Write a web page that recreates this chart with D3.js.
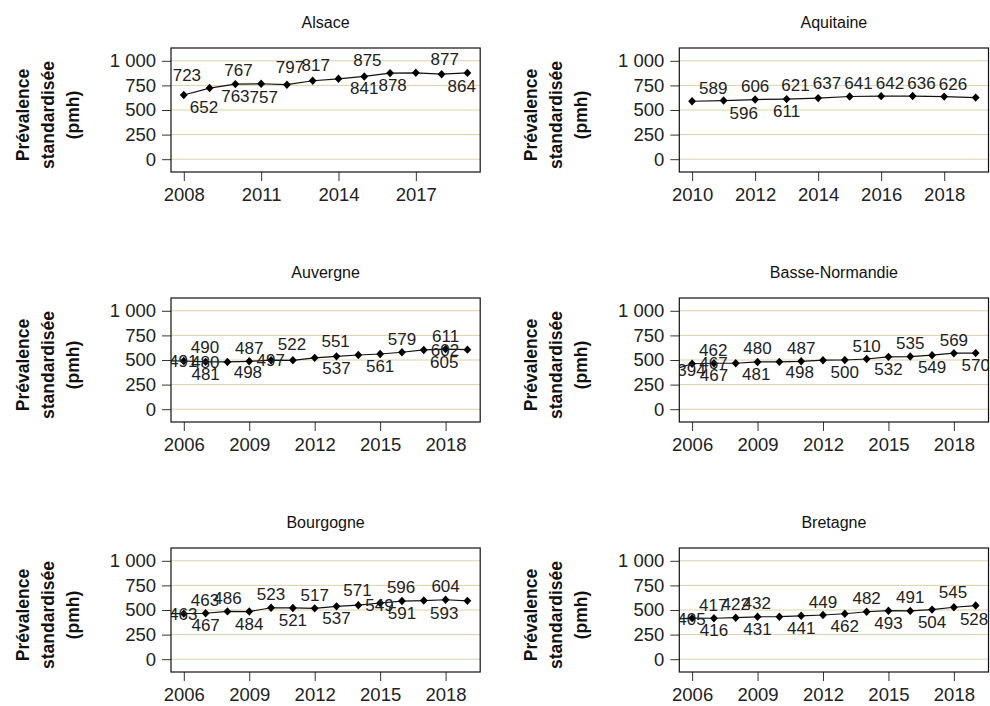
<!DOCTYPE html>
<html><head><meta charset="utf-8">
<script src="https://cdn.jsdelivr.net/npm/d3@7"></script>
<style>body{margin:0;background:#fff} svg{display:block}</style>
</head><body>
<svg id="c" width="990" height="706"></svg>
<script>
// ---------- data ----------
const regions = ["Alsace", "Aquitaine", "Auvergne", "Basse-Normandie", "Bourgogne", "Bretagne"];

const alsaceYears = [2008, 2009, 2010, 2011, 2012, 2013, 2014, 2015, 2016, 2017, 2018, 2019];
const alsaceValues = [652, 723, 763, 767, 757, 797, 817, 841, 875, 878, 864, 877];

const aquitaineYears = [2010, 2011, 2012, 2013, 2014, 2015, 2016, 2017, 2018, 2019];
const aquitaineValues = [589, 596, 606, 611, 621, 637, 641, 642, 636, 626];

const auvergneYears = [2005, 2006, 2007, 2008, 2009, 2010, 2011, 2012, 2013, 2014, 2015, 2016, 2017, 2018, 2019];
const auvergneValues = [491, 490, 481, 480, 487, 498, 497, 522, 537, 551, 561, 579, 602, 611, 605];

const basseNormandieYears = [2005, 2006, 2007, 2008, 2009, 2010, 2011, 2012, 2013, 2014, 2015, 2016, 2017, 2018, 2019];
const basseNormandieValues = [394, 462, 467, 467, 480, 481, 487, 498, 500, 510, 532, 535, 549, 569, 570];

const bourgogneYears = [2005, 2006, 2007, 2008, 2009, 2010, 2011, 2012, 2013, 2014, 2015, 2016, 2017, 2018, 2019];
const bourgogneValues = [463, 463, 467, 486, 484, 523, 521, 517, 537, 549, 571, 591, 596, 604, 593];

const bretagneYears = [2005, 2006, 2007, 2008, 2009, 2010, 2011, 2012, 2013, 2014, 2015, 2016, 2017, 2018, 2019];
const bretagneValues = [405, 417, 416, 422, 431, 432, 441, 449, 462, 482, 493, 491, 504, 528, 545];

const alsaceTicks = [2008, 2011, 2014, 2017];
const aquitaineTicks = [2010, 2012, 2014, 2016, 2018];
const sixTicks = [2006, 2009, 2012, 2015, 2018];
const yTicks = [0, 250, 500, 750, 1000];
const yTitleLines = ["Prévalence", "standardisée", "(pmh)"];

// data-label placement around each point (compass codes)
const alsacePlace = ["BR","TL","B","TL","BL","TL","TL","B","TL","BL","BR","TL"];
const aquitainePlace = ["TR","BR","T","B","TL","TL","TL","TL","TL","TL"];
const auvergnePlace = ["R","TR","B","L","T","BL","L","TL","B","TL","B","T","R","T","BL"];
const basseNormandiePlace = ["R","TR","B","L","T","BL","T","BL","B","T","B","T","B","T","B"];
const bourgognePlace = ["R","TR","B","T","B","T","B","T","B","R","TL","B","TL","T","BL"];
const bretagnePlace = ["R","TR","B","T","B","TL","B","T","B","T","B","T","B","BR","TL"];

const yearsList = [alsaceYears, aquitaineYears, auvergneYears, basseNormandieYears, bourgogneYears, bretagneYears];
const valuesList = [alsaceValues, aquitaineValues, auvergneValues, basseNormandieValues, bourgogneValues, bretagneValues];
const ticksList = [alsaceTicks, aquitaineTicks, sixTicks, sixTicks, sixTicks, sixTicks];
const placeList = [alsacePlace, aquitainePlace, auvergnePlace, basseNormandiePlace, bourgognePlace, bretagnePlace];

// ---------- layout ----------
const colLeft = [171, 679.3];
const frameW = 309.2, frameH = 124;
const rowTop = [48, 298, 548];
const pad = 12.8;
const FONT = "'Liberation Sans', Arial, sans-serif";
const gridColor = "#dcd1ab";

const fr = d3.formatLocale({decimal: ",", thousands: "\u00a0", grouping: [3], currency: ["", " €"]});
const fmtY = fr.format(",d");

const OFF = {
  T:  {dx: 0,    dy: -7.5, a: "middle"},
  TL: {dx: -8.5, dy: -7.5, a: "end"},
  TR: {dx: 7,    dy: -7.5, a: "start"},
  B:  {dx: 0,    dy: 18,   a: "middle"},
  BL: {dx: -9,   dy: 18,   a: "end"},
  BR: {dx: 6,    dy: 18,   a: "start"},
  L:  {dx: -8,   dy: 6,    a: "end"},
  R:  {dx: 7,    dy: 6,    a: "start"}
};

const svg = d3.select("#c");

regions.forEach((name, i) => {
  const x0 = colLeft[i % 2], y0 = rowTop[Math.floor(i / 2)];
  const years = yearsList[i], values = valuesList[i], ticks = ticksList[i], place = placeList[i];
  const data = years.map((yr, k) => ({yr, v: values[k], p: place[k]}));

  const x = d3.scaleLinear().domain([ticks[0], years[years.length - 1]]).range([pad, frameW - pad]);
  const y = d3.scaleLinear().domain([0, 1000]).range([frameH - pad, pad]);

  const g = svg.append("g").attr("transform", `translate(${x0},${y0})`);

  // title
  g.append("text").attr("x", frameW / 2).attr("y", -20)
    .attr("text-anchor", "middle").attr("font-family", FONT).attr("font-size", 16)
    .attr("fill", "#111").text(name);

  // y title
  const yt = g.append("text")
    .attr("transform", `translate(${-142.5},${67}) rotate(-90)`)
    .attr("text-anchor", "middle").attr("font-family", FONT).attr("font-size", 17.5)
    .attr("font-weight", "bold").attr("fill", "#111");
  yTitleLines.forEach((t, k) => yt.append("tspan").attr("x", 0).attr("y", k * 25).text(t));

  // gridlines
  g.append("g").selectAll("line").data(yTicks).join("line")
    .attr("x1", 0).attr("x2", frameW).attr("y1", d => y(d)).attr("y2", d => y(d))
    .attr("stroke", gridColor).attr("stroke-width", 1);

  // axes
  const ya = g.append("g").call(d3.axisLeft(y).tickValues(yTicks).tickFormat(fmtY).tickSize(9).tickPadding(6));
  const xa = g.append("g").attr("transform", `translate(0,${frameH})`)
    .call(d3.axisBottom(x).tickValues(ticks).tickFormat(d3.format("d")).tickSize(9).tickPadding(7));
  [ya, xa].forEach(a => {
    a.select(".domain").remove();
    a.selectAll("line").attr("stroke", "#333");
    a.selectAll("text").attr("font-family", FONT).attr("font-size", 18.5).attr("fill", "#222");
  });

  // clip
  const cid = "clip" + i;
  g.append("clipPath").attr("id", cid).append("rect").attr("width", frameW).attr("height", frameH);
  const pg = g.append("g").attr("clip-path", `url(#${cid})`);

  pg.append("path").datum(data)
    .attr("d", d3.line().x(d => x(d.yr)).y(d => y(d.v)))
    .attr("fill", "none").attr("stroke", "#111").attr("stroke-width", 1.2);

  pg.selectAll("path.m").data(data).join("path").attr("class", "m")
    .attr("transform", d => `translate(${x(d.yr)},${y(d.v)})`)
    .attr("d", "M0,-4.2L3.9,0L0,4.2L-3.9,0Z").attr("fill", "#000");

  pg.selectAll("text.lb").data(data).join("text").attr("class", "lb")
    .attr("x", d => x(d.yr) + OFF[d.p].dx)
    .attr("y", d => y(d.v) + OFF[d.p].dy)
    .attr("text-anchor", d => OFF[d.p].a)
    .attr("font-family", FONT).attr("font-size", 17).attr("fill", "#222")
    .text(d => d.v);

  // frame
  g.append("rect").attr("width", frameW).attr("height", frameH)
    .attr("fill", "none").attr("stroke", "#111").attr("stroke-width", 1.2);
});
</script>
</body></html>
